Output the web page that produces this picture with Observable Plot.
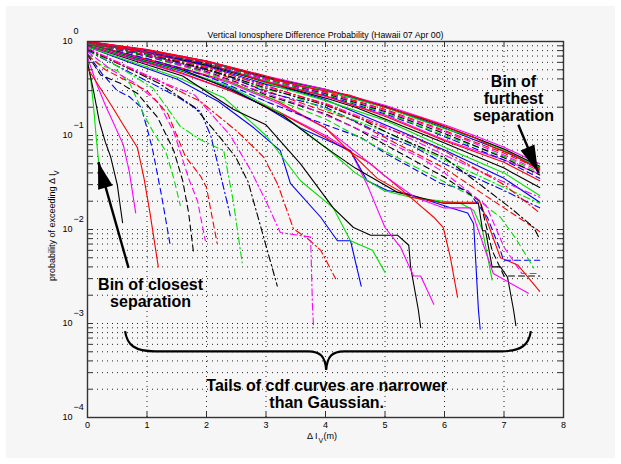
<!DOCTYPE html>
<html><head><meta charset="utf-8">
<script src="https://cdn.jsdelivr.net/npm/d3@7"></script>
<script src="https://cdn.jsdelivr.net/npm/@observablehq/plot@0.6"></script>
<style>
html,body{margin:0;padding:0;background:#fff;}
#wrap{position:relative;width:621px;height:464px;overflow:hidden;}
#bg{position:absolute;left:6px;top:6px;width:609px;height:452px;background:#f6f6f6;}
#chart{position:absolute;left:0;top:0;}
</style></head><body>
<div id="wrap"><div id="bg"></div><div id="chart"></div></div>
<script>
// ---------- data ----------
const titleText = "Vertical Ionosphere Difference Probability (Hawaii 07 Apr 00)";
const xTicks = [0, 1, 2, 3, 4, 5, 6, 7, 8];
const xGrid = [1, 2, 3, 4, 5, 6, 7];
const yMajor = [1, 0.1, 0.01, 0.001, 0.0001];
const yExponents = ["0", "\u22121", "\u22122", "\u22123", "\u22124"];
const yGrid = [
  0.2, 0.3, 0.4, 0.5, 0.6, 0.7, 0.8, 0.9,
  0.1, 0.02, 0.03, 0.04, 0.05, 0.06, 0.07, 0.08, 0.09,
  0.01, 0.002, 0.003, 0.004, 0.005, 0.006, 0.007, 0.008, 0.009,
  0.001, 0.0002, 0.0003, 0.0004, 0.0005, 0.0006, 0.0007, 0.0008, 0.0009
];
const yTickVals = yGrid.concat([1, 0.0001]);

// one entry per separation bin (closest first): colour letter, line style, [x, p, x, p, ...]
const curveColors = [
  "g","k","m","r",
  "b","g","k","m","r",
  "b","g","k","r","m",
  "b","g","k","m","r",
  "b","g","k","m","r",
  "b","g","k","m","r",
  "b","g","k","m","r",
  "b","g","k","m","r",
  "b","g","k","m","r",
  "b","g","k","m","r"
];
const curveStyles = [
  "-","-","-","-",
  "--","--","--","--","--",
  "-.","-.","-.","-.","-.",
  "-","-","-","-","-",
  "-","-","-","-","-",
  "--","--","--","--","--",
  "-.","-.","-.","-.","-.",
  "-","-","-","-","-",
  "--","--","--","--","--",
  "-","-","-","-","-"
];
const curvePoints = [
  [0,0.63, 0.05,0.42, 0.1,0.21, 0.15,0.09, 0.19,0.051],
  [0,0.6, 0.1,0.3, 0.2,0.14, 0.3,0.085, 0.39,0.059, 0.5,0.03, 0.59,0.0118],
  [0,0.68, 0.15,0.36, 0.3,0.21, 0.45,0.13, 0.6,0.08, 0.7,0.042, 0.81,0.015],
  [0,0.52, 0.2,0.33, 0.4,0.21, 0.6,0.13, 0.84,0.074, 0.95,0.035, 1.05,0.015, 1.19,0.004],

  [0,0.74, 0.25,0.45, 0.5,0.3, 0.7,0.26, 0.9,0.2, 1.0,0.12, 1.1,0.068, 1.25,0.022, 1.39,0.0068],
  [0,0.7, 0.25,0.55, 0.5,0.49, 0.72,0.35, 0.94,0.17, 1.1,0.11, 1.31,0.069, 1.45,0.035, 1.56,0.018],
  [0,0.72, 0.22,0.44, 0.55,0.36, 0.84,0.28, 1.18,0.155, 1.45,0.069, 1.6,0.033, 1.7,0.015, 1.78,0.0058],
  [0,0.78, 0.4,0.5, 0.8,0.36, 1.2,0.22, 1.45,0.11, 1.7,0.035, 1.85,0.02, 1.98,0.0076],
  [0,0.72, 0.3,0.5, 0.6,0.4, 1.0,0.3, 1.35,0.17, 1.65,0.059, 1.9,0.037, 2.0,0.028, 2.1,0.013, 2.18,0.0071],

  [0,0.8, 0.5,0.55, 1.0,0.38, 1.5,0.26, 1.9,0.18, 2.07,0.1, 2.25,0.035, 2.4,0.014],
  [0,0.82, 0.5,0.55, 1.1,0.32, 1.56,0.125, 1.9,0.09, 2.29,0.069, 2.45,0.02, 2.6,0.0044],
  [0,0.82, 0.6,0.55, 1.2,0.36, 1.8,0.2, 2.2,0.1, 2.49,0.059, 2.7,0.032, 2.96,0.0083, 3.19,0.0025],
  [0,0.85, 0.6,0.55, 1.2,0.38, 1.9,0.23, 2.52,0.11, 2.96,0.059, 3.2,0.03, 3.46,0.0102, 3.7,0.008, 3.92,0.006, 4.17,0.003],
  [0,0.85, 0.8,0.5, 1.3,0.36, 1.8,0.27, 2.4,0.1, 2.74,0.043, 3.0,0.02, 3.24,0.0093, 3.75,0.0083, 3.78,0.0016, 3.8,0.0009],

  [0,0.88, 0.7,0.6, 1.5,0.4, 2.2,0.23, 2.8,0.12, 3.24,0.069, 3.41,0.031, 3.92,0.0135, 4.2,0.0076, 4.42,0.0076, 4.6,0.0025],
  [0,0.88, 0.7,0.62, 1.5,0.42, 2.3,0.25, 3.0,0.1, 3.58,0.033, 4.13,0.017, 4.42,0.0076, 4.79,0.006, 5.0,0.0035],
  [0,0.9, 0.8,0.62, 1.6,0.43, 2.45,0.19, 3.0,0.13, 3.58,0.05, 4.13,0.017, 4.47,0.0105, 4.76,0.0087, 5.21,0.0087, 5.4,0.0068, 5.43,0.004, 5.56,0.0014, 5.6,0.0009],
  [0,0.9, 0.8,0.64, 1.6,0.45, 2.4,0.3, 3.2,0.18, 4.0,0.1, 4.42,0.069, 4.7,0.03, 5.0,0.0105, 5.26,0.0065, 5.48,0.0032, 5.6,0.0032, 5.82,0.0016],
  [0,0.92, 0.8,0.65, 1.6,0.46, 2.4,0.3, 3.2,0.18, 4.0,0.095, 4.76,0.05, 5.43,0.022, 5.82,0.0135, 5.98,0.0105, 6.1,0.005, 6.22,0.0019],

  [0,0.93, 0.8,0.66, 1.6,0.48, 2.4,0.32, 3.0,0.2, 3.58,0.12, 4.42,0.069, 4.7,0.033, 5.04,0.026, 5.38,0.024, 6.1,0.017, 6.39,0.015, 6.49,0.0115, 6.57,0.0014, 6.6,0.00087],
  [0,0.93, 0.8,0.67, 1.6,0.49, 2.4,0.33, 3.2,0.18, 4.0,0.075, 4.5,0.04, 4.98,0.026, 5.43,0.022, 6.27,0.019, 6.49,0.016, 6.64,0.0098, 6.8,0.0029],
  [0,0.95, 0.8,0.68, 1.6,0.5, 2.45,0.3, 3.3,0.16, 3.92,0.081, 4.5,0.045, 5.2,0.025, 5.98,0.019, 6.57,0.019, 6.64,0.0097, 6.69,0.0097, 6.8,0.004, 6.94,0.004, 7.06,0.0031, 7.16,0.0014, 7.2,0.00095],
  [0,0.95, 0.8,0.69, 1.6,0.51, 2.4,0.36, 3.2,0.22, 4.0,0.12, 4.6,0.06, 5.0,0.037, 5.5,0.022, 5.98,0.017, 6.44,0.017, 6.82,0.0034, 7.41,0.0021],
  [0,0.95, 0.8,0.7, 1.6,0.52, 2.4,0.37, 3.2,0.23, 4.0,0.12, 4.87,0.035, 5.43,0.022, 5.93,0.0195, 6.6,0.0195, 6.94,0.005, 7.23,0.0042, 7.6,0.0022],

  [0,0.95, 1.0,0.66, 2.0,0.43, 2.6,0.3, 3.0,0.23, 4.0,0.13, 4.6,0.095, 5.0,0.065, 5.93,0.031, 6.39,0.026, 6.72,0.0135, 6.94,0.006, 6.99,0.0047, 7.6,0.0047],
  [0,0.95, 1.0,0.69, 1.7,0.52, 2.0,0.46, 3.0,0.26, 3.5,0.2, 4.0,0.15, 5.0,0.068, 6.0,0.032, 6.5,0.022, 6.94,0.0135, 7.2,0.008, 7.5,0.0039],
  [0,0.96, 1.0,0.7, 2.0,0.48, 2.5,0.37, 3.0,0.27, 4.0,0.17, 4.5,0.12, 5.0,0.08, 6.0,0.036, 6.6,0.02, 6.8,0.006, 7.0,0.0032, 7.6,0.0032],
  [0,0.96, 1.0,0.71, 2.0,0.47, 3.0,0.28, 3.6,0.21, 4.0,0.165, 5.0,0.088, 5.6,0.058, 6.0,0.04, 6.7,0.018, 7.0,0.0065, 7.3,0.0034, 7.6,0.0034],
  [0,0.96, 1.0,0.72, 2.0,0.5, 3.0,0.3, 4.0,0.18, 4.4,0.15, 5.0,0.095, 6.0,0.045, 6.6,0.025, 7.0,0.017, 7.6,0.0095],

  [0,0.96, 1.0,0.72, 2.0,0.5, 2.4,0.42, 3.0,0.29, 4.0,0.2, 5.0,0.1, 5.5,0.075, 6.0,0.05, 7.0,0.026, 7.6,0.017],
  [0,0.96, 1.0,0.73, 2.0,0.52, 3.0,0.31, 3.4,0.27, 4.0,0.19, 5.0,0.11, 6.0,0.055, 7.0,0.028, 7.6,0.019],
  [0,0.97, 1.0,0.74, 2.0,0.51, 3.0,0.32, 4.0,0.21, 4.6,0.15, 5.0,0.11, 6.0,0.058, 6.6,0.03, 7.16,0.016, 7.5,0.0105, 7.6,0.0079],
  [0,0.97, 1.0,0.75, 1.5,0.64, 2.0,0.54, 3.0,0.33, 4.0,0.22, 5.0,0.125, 6.0,0.062, 7.0,0.032, 7.6,0.022],
  [0,0.97, 1.0,0.75, 2.0,0.53, 3.0,0.34, 4.0,0.215, 5.0,0.12, 5.4,0.1, 6.0,0.068, 7.0,0.03, 7.6,0.015],

  [0,0.97, 1.0,0.76, 2.0,0.55, 3.0,0.35, 3.5,0.3, 4.0,0.24, 5.0,0.13, 6.0,0.07, 7.0,0.035, 7.6,0.0195],
  [0,0.97, 1.0,0.77, 2.0,0.56, 2.7,0.42, 3.0,0.36, 4.0,0.235, 5.0,0.145, 6.0,0.075, 7.0,0.04, 7.6,0.023],
  [0,0.98, 1.0,0.77, 2.0,0.56, 3.0,0.37, 4.0,0.25, 4.5,0.2, 5.0,0.15, 6.0,0.083, 7.0,0.045, 7.6,0.028],
  [0,0.98, 1.0,0.78, 2.0,0.58, 3.0,0.38, 4.0,0.26, 5.0,0.165, 6.0,0.09, 6.5,0.07, 7.0,0.055, 7.6,0.039],
  [0,0.98, 1.0,0.78, 2.0,0.58, 3.0,0.37, 4.0,0.265, 5.0,0.16, 6.0,0.088, 7.0,0.052, 7.6,0.033],

  [0,0.98, 1,0.78, 2,0.57, 3,0.39, 4,0.27, 5,0.17, 5.5,0.13, 6,0.097, 7,0.055, 7.6,0.035],
  [0,0.98, 1,0.79, 2,0.59, 3,0.39, 4,0.275, 5,0.175, 6,0.1, 7,0.06, 7.6,0.04],
  [0,0.98, 1,0.79, 2,0.59, 2.5,0.49, 3,0.4, 4,0.28, 5,0.18, 6,0.105, 7,0.058, 7.6,0.038],
  [0,0.99, 1,0.79, 2,0.6, 3,0.4, 4,0.285, 4.5,0.23, 5,0.185, 6,0.11, 7,0.062, 7.6,0.042],
  [0,0.99, 1,0.8, 2,0.6, 3,0.41, 4,0.29, 5,0.19, 6,0.113, 7,0.065, 7.6,0.044],

  [0,0.99, 1,0.8, 2,0.61, 3,0.41, 4,0.3, 5,0.2, 6,0.12, 6.5,0.09, 7,0.068, 7.6,0.045],
  [0,0.99, 1,0.81, 2,0.61, 3,0.42, 4,0.3, 5,0.2, 6,0.118, 6.5,0.095, 7,0.07, 7.6,0.046],
  [0,1.0, 1,0.81, 2,0.62, 3,0.42, 4,0.31, 5,0.205, 6,0.125, 6.5,0.095, 7,0.072, 7.6,0.047],
  [0,1.0, 1,0.82, 2,0.62, 3,0.43, 4,0.31, 5,0.21, 6,0.13, 6.5,0.1, 7,0.075, 7.6,0.05],
  [0,1.0, 1,0.82, 2,0.62, 3,0.43, 3.6,0.33, 4.4,0.27, 5.0,0.2, 5.6,0.155, 6.05,0.123, 6.5,0.095, 6.82,0.075, 7.16,0.062, 7.6,0.043]
];

// annotations (positions in data units)
const noteTexts = ["Bin of\nfurthest\nseparation", "Bin of closest\nseparation", "Tails of cdf curves are narrower\nthan Gaussian."];
const noteX = [7.16, 1.06, 4.02];
const noteY = [0.248, 0.00211, 0.000178];
const arrowFrom = [[7.24, 0.13], [0.69, 0.0039]];
const arrowTo = [[7.58, 0.040], [0.185, 0.052]];
const braceX = [0.64, 4.02, 7.46];
const braceY = [0.00082, 0.0005, 0.000316];

// ---------- build ----------
const palette = {b: "#0000ff", g: "#00e000", r: "#ff0000", m: "#ff00ff", k: "#000000"};
const dashes = {"-": null, "--": "6,4", "-.": "7,3,1.5,3"};
const rows = [];
curvePoints.forEach((pts, i) => {
  for (let j = 0; j < pts.length; j += 2) {
    rows.push({id: i, x: pts[j], p: pts[j + 1], color: palette[curveColors[i]], style: curveStyles[i]});
  }
});
const font = "'Liberation Sans', Arial, Helvetica, sans-serif";
const lineMarks = Object.keys(dashes).map(s =>
  Plot.line(rows.filter(d => d.style === s), {
    x: "x", y: "p", z: "id", stroke: "color", strokeWidth: 1.1,
    strokeDasharray: dashes[s] || undefined
  })
);
const notes = noteTexts.map((t, i) => ({t, x: noteX[i], y: noteY[i]}));
const arrows = arrowFrom.map((a, i) => ({x1: a[0], y1: a[1], x2: arrowTo[i][0], y2: arrowTo[i][1]}));

const plot = Plot.plot({
  width: 621, height: 464,
  marginLeft: 87, marginRight: 58, marginTop: 41, marginBottom: 47,
  x: {domain: [0, 8], axis: null},
  y: {type: "log", domain: [0.0001, 1], axis: null},
  style: {background: "transparent", fontFamily: font, overflow: "visible"},
  marks: [
    Plot.ruleX(xGrid, {x: d => d, stroke: "#000", strokeDasharray: "1,4", strokeWidth: 1, strokeOpacity: 0.85}),
    Plot.ruleY(yGrid, {y: d => d, stroke: "#000", strokeDasharray: "1,4", strokeWidth: 1, strokeOpacity: 0.85}),
    ...lineMarks,
    Plot.ruleY(yTickVals, {y: d => d, insetRight: 471, stroke: "#333"}),
    Plot.ruleY(yTickVals, {y: d => d, insetLeft: 471, stroke: "#333"}),
    Plot.ruleX(xTicks, {x: d => d, insetTop: 371, stroke: "#333"}),
    Plot.ruleX(xTicks, {x: d => d, insetBottom: 371, stroke: "#333"}),
    Plot.frame({stroke: "#333", strokeWidth: 1.4}),
    // y tick labels 10^k
    Plot.text(yMajor, {y: d => d, text: () => "10", frameAnchor: "left", textAnchor: "end", dx: -15, dy: 0, fontSize: 9, fill: "#000"}),
    Plot.text(yMajor, {y: d => d, text: (d, i) => yExponents[i], frameAnchor: "left", textAnchor: "start", dx: -14, dy: -10, fontSize: 9, fill: "#000"}),
    // x tick labels
    Plot.text(xTicks, {x: d => d, text: d => String(d), frameAnchor: "bottom", dy: 10, fontSize: 9, fill: "#000"}),
    // title
    Plot.text([titleText], {text: d => d, frameAnchor: "top", dy: -10, fontSize: 8.8, fill: "#000"}),
    // x label
    Plot.text(["\u0394 I"], {text: d => d, frameAnchor: "bottom", textAnchor: "end", dx: -8, dy: 21, fontSize: 9, fill: "#000"}),
    Plot.text(["V"], {text: d => d, frameAnchor: "bottom", textAnchor: "start", dx: -7, dy: 25, fontSize: 7, fill: "#000"}),
    Plot.text(["(m)"], {text: d => d, frameAnchor: "bottom", textAnchor: "start", dx: -2, dy: 21, fontSize: 9, fill: "#000"}),
    // y label
    Plot.text(["probability of exceeding \u0394 I"], {text: d => d, frameAnchor: "left", rotate: -90, textAnchor: "end", dx: -35, dy: -56, fontSize: 9, fill: "#000"}),
    Plot.text(["V"], {text: d => d, frameAnchor: "left", rotate: -90, textAnchor: "end", dx: -31, dy: -59, fontSize: 7, fill: "#000"}),
    // annotations
    Plot.link(arrows, {x1: "x1", y1: "y1", x2: "x2", y2: "y2", stroke: "#000", strokeWidth: 2.4}),
    Plot.text(notes, {x: "x", y: "y", text: "t", fontSize: 16, fontWeight: "bold", lineHeight: 1.07, fill: "#000"})
  ]
});
document.getElementById("chart").appendChild(plot);

// arrow heads and the brace, positioned through the plot's scales
const sx = plot.scale("x"), sy = plot.scale("y");
const fx = sx.apply ? (v => sx.apply(v)) : d3.scaleLinear(sx.domain, sx.range);
const fy = sy.apply ? (v => sy.apply(v)) : d3.scaleLog(sy.domain, sy.range);
const svg = d3.select(plot.tagName.toLowerCase() === "svg" ? plot : plot.querySelector("svg"));
const g = svg.append("g");
arrows.forEach(a => {
  const x1 = fx(a.x1), y1 = fy(a.y1), x2 = fx(a.x2), y2 = fy(a.y2);
  const dx = x2 - x1, dy = y2 - y1, L = Math.hypot(dx, dy);
  const ux = dx / L, uy = dy / L, nx = -uy, ny = ux;
  const hl = 27, hw = 7.5;
  const bx = x2 - ux * hl, by = y2 - uy * hl;
  g.append("path")
    .attr("d", `M${x2},${y2}L${bx + nx * hw},${by + ny * hw}L${bx - nx * hw},${by - ny * hw}Z`)
    .attr("fill", "#000");
});
{
  const xl = fx(braceX[0]), xc = fx(braceX[1]), xr = fx(braceX[2]);
  const yt = fy(braceY[0]), ym = fy(braceY[1]), yb = fy(braceY[2]);
  const d = `M${xl},${yt}C${xl + 2},${ym - 6} ${xl + 10},${ym} ${xl + 30},${ym}` +
    `L${xc - 18},${ym}C${xc - 6},${ym} ${xc - 1},${ym + 5} ${xc},${yb}` +
    `C${xc + 1},${ym + 5} ${xc + 6},${ym} ${xc + 18},${ym}` +
    `L${xr - 30},${ym}C${xr - 10},${ym} ${xr - 2},${ym - 6} ${xr},${yt}`;
  g.append("path").attr("d", d).attr("fill", "none").attr("stroke", "#000").attr("stroke-width", 2.2);
}
</script>
</body></html>
